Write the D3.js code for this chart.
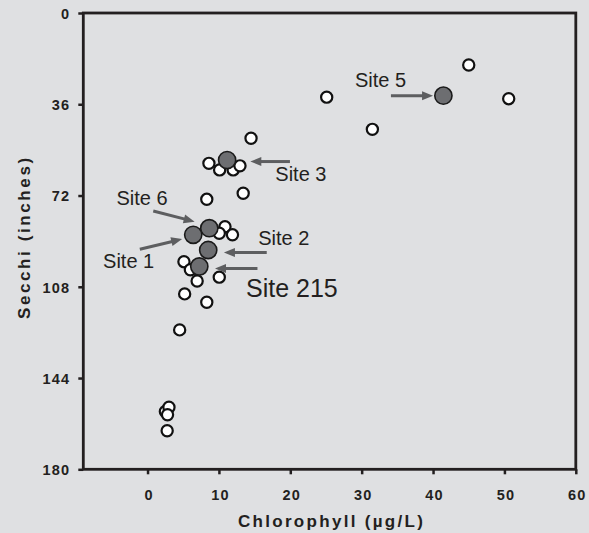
<!DOCTYPE html>
<html>
<head>
<meta charset="utf-8">
<script src="https://cdn.jsdelivr.net/npm/d3@7"></script>
<style>
  html, body { margin: 0; padding: 0; background: #dfe0e2; }
  svg { display: block; }
</style>
</head>
<body>
<script>
// ---- Data ----
const otherChl =    [25.1, 31.5, 45.0, 50.6, 14.5, 8.6, 10.1, 12.0, 12.95, 13.4, 8.3, 10.85, 10.05, 11.9, 5.1, 6.0, 6.95, 10.05, 5.2, 8.3, 4.5, 2.5, 3.0, 2.8, 2.75];
const otherSecchi = [33.2, 45.9, 20.5, 33.8, 49.4, 59.3, 61.9, 61.9, 60.3, 71.1, 73.5, 84.3, 86.9, 87.5, 98.1, 101.3, 105.7, 104.2, 110.8, 114.1, 125.0, 157.2, 155.5, 158.5, 164.8];

const siteNames =  ["Site 5", "Site 3", "Site 6", "Site 1", "Site 2", "Site 215"];
const siteChl =    [41.45, 11.15, 8.65, 6.4, 8.5, 7.25];
const siteSecchi = [32.6, 58.0, 84.9, 87.5, 93.5, 100.0];

// annotation anchors in data units: label position and arrow start -> tip
const labelChl =    [29.07, 17.9, -4.35, -6.23, 15.5, 13.8];
const labelSecchi = [29.1, 66.4, 75.7, 100.6, 91.5, 112.1];
const arrowFromChl =    [34.1, 19.95, 0.8, -1.08, 16.7, 15.4];
const arrowFromSecchi = [32.6, 58.6, 78.1, 93.2, 94.5, 100.8];
const arrowToChl =      [40.0, 14.4, 6.6, 4.85, 10.7, 9.45];
const arrowToSecchi =   [32.6, 58.6, 82.3, 89.2, 94.5, 100.8];
const labelSize =       [20, 20, 20, 20, 20, 25];

const xTicks = [0, 10, 20, 30, 40, 50, 60];
const yTicks = [0, 36, 72, 108, 144, 180];
const xTitle = "Chlorophyll (µg/L)";
const yTitle = "Secchi (inches)";

// ---- Layout ----
const W = 589, H = 533;
const L = 83.3, T = 13, R = 575.8, B = 469.3;
const ink = "#231f20";
const font = "'Liberation Sans', Arial, sans-serif";

const svg = d3.select("body").append("svg").attr("width", W).attr("height", H);
svg.append("rect").attr("width", W).attr("height", H).attr("fill", "#dfe0e2");

const x = d3.scaleLinear().domain([-9, 60]).range([L, R]);
const y = d3.scaleLinear().domain([0, 180]).range([T, B]);

// axes
const xAxis = svg.append("g").attr("transform", `translate(0,${B})`)
  .call(d3.axisBottom(x).tickValues(xTicks).tickSize(5).tickPadding(10).tickFormat(d3.format("d")));
const yAxis = svg.append("g").attr("transform", `translate(${L},0)`)
  .call(d3.axisLeft(y).tickValues(yTicks).tickSize(5).tickPadding(10).tickFormat(d3.format("d")));

[xAxis, yAxis].forEach(g => {
  g.select(".domain").remove();
  g.selectAll(".tick line").attr("stroke", ink).attr("stroke-width", 2.5);
  g.selectAll(".tick text")
    .attr("fill", ink)
    .style("font-family", font)
    .style("font-size", "14.5px")
    .style("font-weight", "bold")
    .style("letter-spacing", "1.2px");
});
xAxis.selectAll(".tick text").attr("dy", null).attr("y", 31).attr("x", 1);
yAxis.selectAll(".tick text").attr("dy", "0.36em").attr("x", -13);

// frame
svg.append("rect")
  .attr("x", x(-9)).attr("y", y(0))
  .attr("width", x(60) - x(-9)).attr("height", y(180) - y(0))
  .attr("fill", "none").attr("stroke", ink).attr("stroke-width", 2.8);

// titles
svg.append("text")
  .attr("x", (L + R) / 2 + 2).attr("y", 527)
  .attr("text-anchor", "middle")
  .attr("fill", ink)
  .style("font-family", font).style("font-size", "17px").style("font-weight", "bold")
  .style("letter-spacing", "2.3px")
  .text(xTitle);

svg.append("text")
  .attr("transform", `translate(30,${(T + B) / 2 - 4}) rotate(-90)`)
  .attr("text-anchor", "middle")
  .attr("fill", ink)
  .style("font-family", font).style("font-size", "17px").style("font-weight", "bold")
  .style("letter-spacing", "2.6px")
  .text(yTitle);

// other points
svg.append("g").selectAll("circle")
  .data(d3.range(otherChl.length))
  .join("circle")
  .attr("cx", i => x(otherChl[i]))
  .attr("cy", i => y(otherSecchi[i]))
  .attr("r", 5.6)
  .attr("fill", "#ffffff")
  .attr("stroke", "#111")
  .attr("stroke-width", 2.2);

// arrows
const arrowColor = "#5d5e60";
const ag = svg.append("g");
d3.range(siteNames.length).forEach(i => {
  const x1 = x(arrowFromChl[i]), y1 = y(arrowFromSecchi[i]);
  const x2 = x(arrowToChl[i]), y2 = y(arrowToSecchi[i]);
  const ang = Math.atan2(y2 - y1, x2 - x1);
  const hl = 11, hw = 4.5;
  const bx = x2 - hl * Math.cos(ang), by = y2 - hl * Math.sin(ang);
  ag.append("line")
    .attr("x1", x1).attr("y1", y1).attr("x2", bx + 2 * Math.cos(ang)).attr("y2", by + 2 * Math.sin(ang))
    .attr("stroke", arrowColor).attr("stroke-width", 3);
  ag.append("path")
    .attr("d", `M${x2},${y2}L${bx - hw * Math.sin(ang)},${by + hw * Math.cos(ang)}L${bx + hw * Math.sin(ang)},${by - hw * Math.cos(ang)}Z`)
    .attr("fill", arrowColor);
});

// site labels
svg.append("g").selectAll("text")
  .data(d3.range(siteNames.length))
  .join("text")
  .attr("x", i => x(labelChl[i]))
  .attr("y", i => y(labelSecchi[i]))
  .attr("fill", ink)
  .style("font-family", font)
  .style("font-size", i => labelSize[i] + "px")
  .text(i => siteNames[i]);

// site points
svg.append("g").selectAll("circle")
  .data(d3.range(siteNames.length))
  .join("circle")
  .attr("cx", i => x(siteChl[i]))
  .attr("cy", i => y(siteSecchi[i]))
  .attr("r", 8.6)
  .attr("fill", "#6d6e71")
  .attr("stroke", "#1a1a1a")
  .attr("stroke-width", 1.6);
</script>
</body>
</html>
